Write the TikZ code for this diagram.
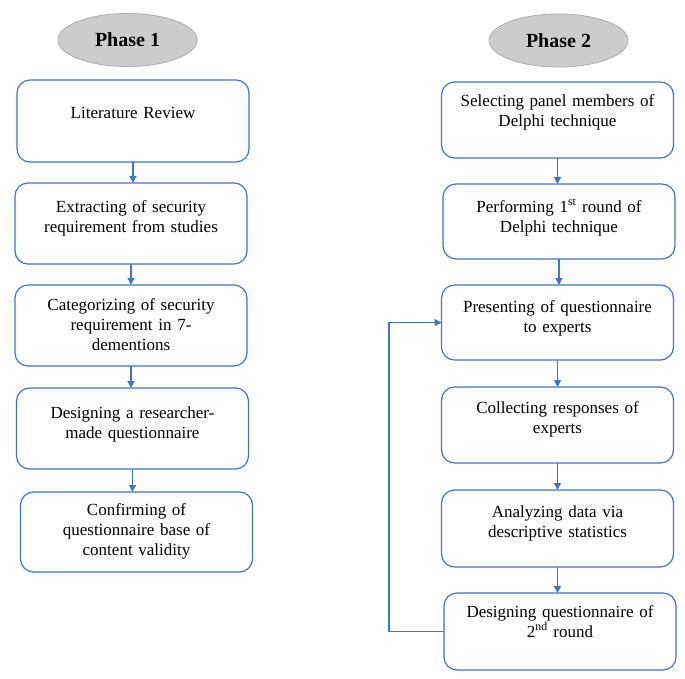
\documentclass[tikz,border=0pt]{standalone}
\usepackage{fontspec}
\setmainfont{Liberation Serif}
\usetikzlibrary{positioning,arrows.meta,shapes.geometric}
\definecolor{flowblue}{HTML}{4472C4}
\tikzset{
  phase/.style={ellipse,draw=gray!65,fill=gray!40,line width=0.8pt,
    minimum width=139pt,minimum height=53pt,
    font=\fontsize{20}{24}\selectfont\bfseries},
  stepbox/.style 2 args={draw=flowblue,line width=1.2pt,rounded corners=13pt,
    text width=220pt,inner xsep=6pt,inner ysep=0pt,outer sep=0pt,align=center,
    text height=#1,text depth=#2,anchor=north,
    font=\fontsize{17}{20}\selectfont},
  flow/.style={draw=flowblue,line width=1.3pt,-{Triangle[length=7pt,width=7pt]}}
}
\begin{document}
\begin{tikzpicture}[x=1pt,y=-1pt]
  \useasboundingbox (0,0) rectangle (685,679);
  % phase 1
  \node[phase] (ph1) at (127.5,40) {Phase 1};
  \node[stepbox={39pt}{43pt}] (lit) at (133,80) {Literature Review};
  \node[stepbox={29pt}{52pt},below=21pt of lit,xshift=-2pt] (extr)
    {Extracting of security\\requirement from studies};
  \node[stepbox={25pt}{56pt},below=21pt of extr] (cat)
    {Categorizing of security\\requirement in 7-\\dementions};
  \node[stepbox={30pt}{51pt},below=22pt of cat,xshift=1.5pt] (des)
    {Designing a researcher-\\made questionnaire};
  \node[stepbox={23pt}{57pt},below=23pt of des,xshift=4pt] (conf)
    {Confirming of\\questionnaire base of\\content validity};
  % phase 2
  \node[phase] (ph2) at (558.5,40.5) {Phase 2};
  \node[stepbox={25pt}{51pt}] (sel) at (557.5,82)
    {Selecting panel members of\\Delphi technique};
  \node[stepbox={28pt}{47pt},below=26pt of sel,xshift=1.5pt] (perf)
    {Performing 1\textsuperscript{st} round of\\Delphi technique};
  \node[stepbox={27pt}{48pt},below=26pt of perf,xshift=-1.5pt] (pres)
    {Presenting of questionnaire\\to experts};
  \node[stepbox={26pt}{50pt},below=27pt of pres] (coll)
    {Collecting responses of\\experts};
  \node[stepbox={27pt}{50pt},below=27pt of coll] (anal)
    {Analyzing data via\\descriptive statistics};
  \node[stepbox={24pt}{53pt},below=26pt of anal,xshift=2.5pt] (des2)
    {Designing questionnaire of\\2\textsuperscript{nd} round};

  \draw[flow] (lit.south) -- (lit.south |- extr.north);
  \draw[flow] (extr.south) -- (extr.south |- cat.north);
  \draw[flow] (cat.south) -- (cat.south |- des.north);
  \draw[flow] (des.south) -- (des.south |- conf.north);
  \draw[flow] (sel.south) -- (sel.south |- perf.north);
  \draw[flow] (perf.south) -- (perf.south |- pres.north);
  \draw[flow] (pres.south) -- (pres.south |- coll.north);
  \draw[flow] (coll.south) -- (coll.south |- anal.north);
  \draw[flow] (anal.south) -- (anal.south |- des2.north);
  % back to the questionnaire
  \draw[flow] (des2.west) -- ++(-55pt,0) |- (pres.west);
\end{tikzpicture}
\end{document}
